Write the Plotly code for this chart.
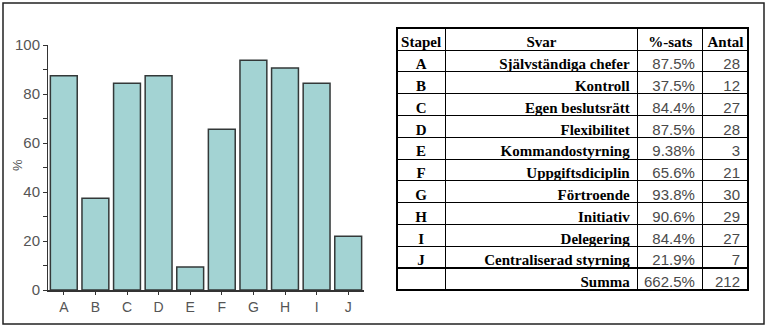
import plotly.graph_objects as go

W, H = 770, 331

staplar = ["A", "B", "C", "D", "E", "F", "G", "H", "I", "J"]
svar = ["Självständiga chefer", "Kontroll", "Egen beslutsrätt", "Flexibilitet",
        "Kommandostyrning", "Uppgiftsdiciplin", "Förtroende", "Initiativ",
        "Delegering", "Centraliserad styrning"]
procent = [87.5, 37.5, 84.4, 87.5, 9.38, 65.6, 93.8, 90.6, 84.4, 21.9]
procent_txt = ["87.5%", "37.5%", "84.4%", "87.5%", "9.38%", "65.6%", "93.8%",
               "90.6%", "84.4%", "21.9%"]
antal = [28, 12, 27, 28, 3, 21, 30, 29, 27, 7]
summa_label = "Summa"
summa_procent = "662.5%"
summa_antal = 212
headers = ["Stapel", "Svar", "%-sats", "Antal"]
y_ticks = [0, 20, 40, 60, 80, 100]
y_title = "%"

fig = go.Figure()

fig.add_trace(go.Bar(
    x=staplar, y=procent,
    marker=dict(color="#a3d3d3", line=dict(color="#333838", width=1.5)),
    showlegend=False,
))

col_stapel = staplar + [""]
col_svar = svar + [summa_label]
col_proc = procent_txt + [summa_procent]
col_antal = [str(a) for a in antal] + [str(summa_antal)]

tx0, tx1 = 397, 748
ty0, ty1 = 28, 290
fig.add_trace(go.Table(
    domain=dict(x=[tx0 / W, tx1 / W], y=[0.0, (H - ty0) / H]),
    columnwidth=[48, 192, 65, 45],
    header=dict(
        values=headers,
        align="center",
        height=22,
        line=dict(color="black", width=1),
        fill=dict(color="white"),
        font=dict(family="Liberation Serif", size=15, color="black", weight="bold"),
    ),
    cells=dict(
        values=[col_stapel, col_svar, col_proc, col_antal],
        align=["center", "right", "right", "right"],
        height=21.8,
        line=dict(color="black", width=1),
        fill=dict(color="white"),
        font=dict(
            family=["Liberation Serif", "Liberation Serif", "Liberation Sans", "Liberation Sans"],
            size=[15, 15, 15, 15],
            color=["black", "black", "#4a4a4a", "#4a4a4a"],
            weight=["bold", "bold", "normal", "normal"],
        ),
    ),
))

x0p, x1p = 48, 364
y0p, y1p = 290, 45
fig.update_layout(
    template="none",
    width=W, height=H,
    margin=dict(l=0, r=0, t=0, b=0, autoexpand=False),
    paper_bgcolor="white", plot_bgcolor="white",
    bargap=0.15,
    xaxis=dict(
        domain=[x0p / W, x1p / W],
        range=[-0.5, 9.5],
        automargin=False,
        showline=True, linecolor="#333", linewidth=2,
        ticks="outside", ticklen=3, tickcolor="#333",
        tickfont=dict(family="Liberation Sans", size=14, color="#555"),
        showgrid=False, zeroline=False, fixedrange=True,
    ),
    yaxis=dict(
        domain=[(H - y0p) / H, (H - y1p) / H],
        range=[0, 100],
        automargin=False,
        tickvals=y_ticks,
        showline=True, linecolor="#333", linewidth=1,
        ticks="outside", ticklen=4, tickcolor="#333",
        minor=dict(dtick=10, ticks="outside", ticklen=4, tickcolor="#333"),
        tickfont=dict(family="Liberation Sans", size=15, color="#555"),
        showgrid=False, zeroline=False, fixedrange=True,
    ),
    annotations=[
        dict(text=y_title, xref="paper", yref="paper",
             x=17 / W, y=(H - 165) / H, xanchor="center", yanchor="middle",
             textangle=-90, showarrow=False,
             font=dict(family="Liberation Sans", size=13, color="#555")),
    ],
    shapes=[
        dict(type="rect", xref="paper", yref="paper",
             x0=3 / W, x1=764 / W, y0=(H - 324) / H, y1=(H - 3) / H,
             line=dict(color="#222", width=1.5), fillcolor="rgba(0,0,0,0)"),
        dict(type="rect", xref="paper", yref="paper",
             x0=tx0 / W, x1=tx1 / W, y0=(H - ty1) / H, y1=(H - ty0) / H,
             line=dict(color="black", width=2), fillcolor="rgba(0,0,0,0)"),
    ],
)

fig.write_html("out.html")
